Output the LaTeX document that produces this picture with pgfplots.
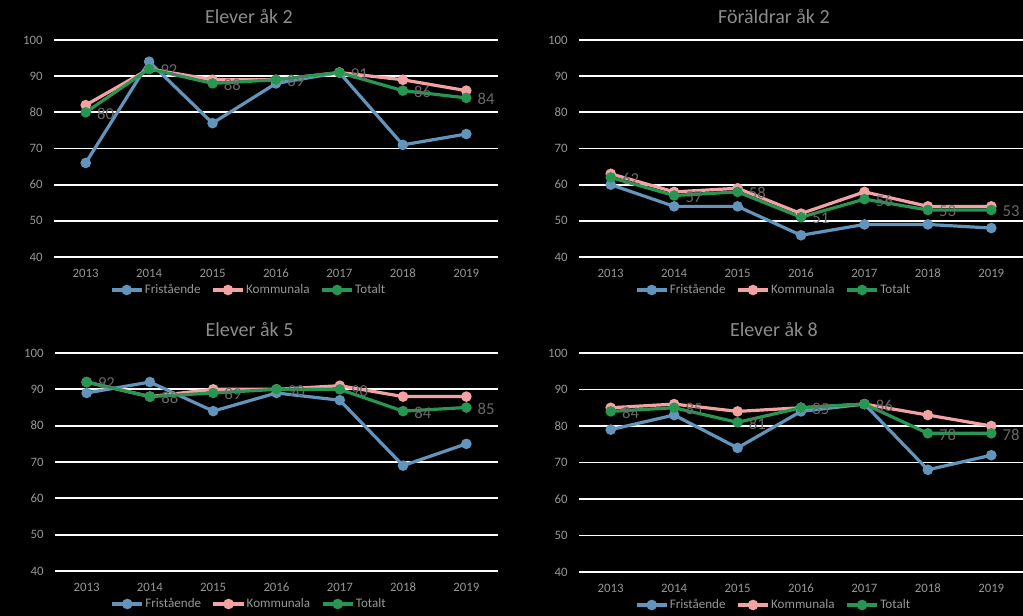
\documentclass[border=0pt]{standalone}
\usepackage{fontspec}
\setmainfont{Carlito}
\usepackage{pgfplots}
\pgfplotsset{compat=1.18}
\definecolor{cblue}{RGB}{98,148,188}
\definecolor{cpink}{RGB}{242,162,162}
\definecolor{cgreen}{RGB}{38,150,82}
\definecolor{ctick}{RGB}{150,150,150}
\definecolor{ctitle}{RGB}{140,140,140}
\definecolor{clabel}{RGB}{105,105,105}
\pgfplotsset{panel/.style={
  scale only axis, width=333pt, height=162.75pt,
  xmin=2012.5, xmax=2019.5, ymin=40, ymax=100,
  xtick={2013,...,2019}, ytick={40,50,...,100},
  xticklabel style={/pgf/number format/1000 sep=, yshift=-5.5pt},
  yticklabel style={xshift=-5pt},
  ymajorgrids, grid style={white, line width=1.3pt},
  axis line style={draw=none},
  major tick length=0pt,
  tick label style={font=\fontsize{9.6}{11}\selectfont, text=ctick},
  /pgf/number format/assume math mode=true,
  title style={at={(0.439,1)}, anchor=center, yshift=11.5pt, font=\fontsize{15}{17}\selectfont, text=ctitle},
  legend style={at={(0.439,0)}, anchor=center, yshift=-24.75pt, draw=none, fill=none, text=ctick,
    font=\fontsize{9.8}{11}\selectfont, legend columns=3, inner sep=0pt,
    /tikz/every even column/.append style={column sep=6pt},
    /tikz/every odd column/.append style={column sep=-1pt}},
  legend image code/.code={\draw[mark repeat=2,mark phase=2,#1] plot coordinates {(0cm,0cm) (0.4cm,0cm) (0.8cm,0cm)};},
  clip=false,
  every axis plot/.append style={line width=2.4pt, mark=*, mark size=2.7pt},
  totlab/.style={nodes near coords, nodes near coords style={anchor=west, text=clabel, font=\fontsize{12.5}{14}\selectfont, xshift=4pt, yshift=-1pt}},
}}
\begin{document}
\begin{tikzpicture}
\fill[black] (0,0) rectangle (767.25pt,462pt);
% Panel 1
\begin{axis}[panel, at={(40.5pt,269.25pt)}, anchor=south west, title={Elever åk 2}]
\addplot[cblue] coordinates {(2013,66) (2014,94) (2015,77) (2016,88) (2017,91) (2018,71) (2019,74)};
\addplot[cpink] coordinates {(2013,82) (2014,92) (2015,89) (2016,89) (2017,91) (2018,89) (2019,86)};
\addplot[cgreen, totlab] coordinates {(2013,80) (2014,92) (2015,88) (2016,89) (2017,91) (2018,86) (2019,84)};
\legend{Fristående, Kommunala, Totalt}
\end{axis}
% Panel 2
\begin{axis}[panel, at={(434.25pt,269.25pt)}, anchor=south west, title={Föräldrar åk 2}]
\addplot[cblue] coordinates {(2013,60) (2014,54) (2015,54) (2016,46) (2017,49) (2018,49) (2019,48)};
\addplot[cpink] coordinates {(2013,63) (2014,58) (2015,59) (2016,52) (2017,58) (2018,54) (2019,54)};
\addplot[cgreen, totlab] coordinates {(2013,62) (2014,57) (2015,58) (2016,51) (2017,56) (2018,53) (2019,53)};
\legend{Fristående, Kommunala, Totalt}
\end{axis}
% Panel 3
\begin{axis}[panel, at={(41.25pt,33.75pt)}, anchor=south west, width=332.25pt, height=163.5pt, title={Elever åk 5}]
\addplot[cblue] coordinates {(2013,89) (2014,92) (2015,84) (2016,89) (2017,87) (2018,69) (2019,75)};
\addplot[cpink] coordinates {(2013,92) (2014,88) (2015,90) (2016,90) (2017,91) (2018,88) (2019,88)};
\addplot[cgreen, totlab] coordinates {(2013,92) (2014,88) (2015,89) (2016,90) (2017,90) (2018,84) (2019,85)};
\legend{Fristående, Kommunala, Totalt}
\end{axis}
% Panel 4
\begin{axis}[panel, at={(434.25pt,33pt)}, anchor=south west, height=164.25pt, title={Elever åk 8}]
\addplot[cblue] coordinates {(2013,79) (2014,83) (2015,74) (2016,84) (2017,86) (2018,68) (2019,72)};
\addplot[cpink] coordinates {(2013,85) (2014,86) (2015,84) (2016,85) (2017,86) (2018,83) (2019,80)};
\addplot[cgreen, totlab] coordinates {(2013,84) (2014,85) (2015,81) (2016,85) (2017,86) (2018,78) (2019,78)};
\legend{Fristående, Kommunala, Totalt}
\end{axis}
\pgfresetboundingbox
\useasboundingbox (0,0) rectangle (767.25pt,462pt);
\end{tikzpicture}
\end{document}
